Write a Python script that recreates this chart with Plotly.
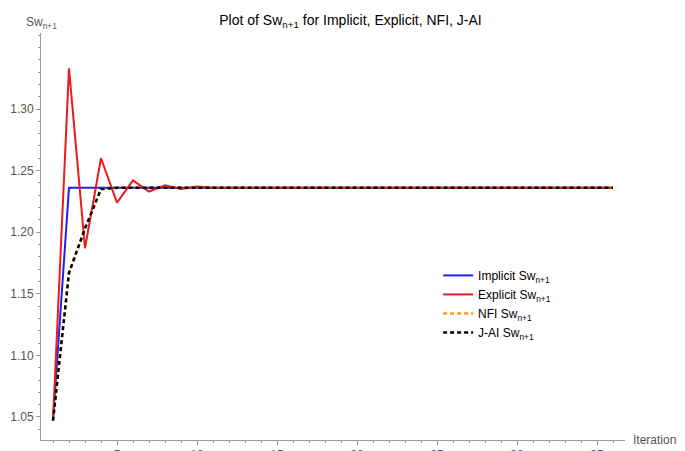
import plotly.graph_objects as go

iterations = list(range(1, 37))
implicit = [1.047] + [1.236] * 35
explicit = [1.047, 1.333, 1.187, 1.260, 1.224, 1.242, 1.233, 1.238, 1.235, 1.237] + [1.236] * 26
nfi = [1.047, 1.167, 1.203, 1.235] + [1.236] * 32
jai = [1.047, 1.167, 1.203, 1.235] + [1.236] * 32

fig = go.Figure()
fig.add_trace(go.Scatter(x=iterations, y=implicit, mode="lines", name="Implicit Sw<sub>n+1</sub>",
                         line=dict(color="#1f1ff0", width=2)))
fig.add_trace(go.Scatter(x=iterations, y=explicit, mode="lines", name="Explicit Sw<sub>n+1</sub>",
                         line=dict(color="#e81c1c", width=2)))
fig.add_trace(go.Scatter(x=iterations, y=nfi, mode="lines", name="NFI Sw<sub>n+1</sub>",
                         line=dict(color="#ff9a1a", width=2.5, dash="4px,3px")))
fig.add_trace(go.Scatter(x=iterations, y=jai, mode="lines", name="J-AI Sw<sub>n+1</sub>",
                         line=dict(color="black", width=2.5, dash="4px,3px")))

axis_common = dict(showgrid=False, zeroline=False, showline=True, linecolor="#999999",
                   ticks="outside", tickcolor="#999999", ticklen=4, automargin=False,
                   tickfont=dict(family="Liberation Sans", size=12, color="#555555"))
fig.update_layout(
    width=685, height=451,
    plot_bgcolor="white", paper_bgcolor="white",
    margin=dict(l=33, r=68, t=25, b=19),
    title=dict(text="Plot of Sw<sub>n+1</sub> for Implicit, Explicit, NFI, J-AI", x=0.5, xanchor="center",
               y=0.985, yanchor="top", font=dict(family="Liberation Sans", size=14, color="black")),
    xaxis=dict(range=[0.25, 36.75], tickvals=[5, 10, 15, 20, 25, 30, 35], minor=dict(ticks="outside", dtick=1, ticklen=2, tickcolor="#999999"), **axis_common),
    yaxis=dict(range=[1.0313, 1.3617], tickvals=[1.05, 1.10, 1.15, 1.20, 1.25, 1.30], tickformat=".2f",
               minor=dict(ticks="outside", dtick=0.01, ticklen=2, tickcolor="#999999"), **axis_common),
    showlegend=True,
    legend=dict(x=0.68, y=0.44, xanchor="left", yanchor="top", bgcolor="rgba(0,0,0,0)",
                font=dict(family="Liberation Sans", size=12, color="black"), tracegroupgap=14),
    annotations=[
        dict(text="Sw<sub>n+1</sub>", xref="paper", yref="paper", x=0, y=1.0, xanchor="center", yanchor="bottom",
             showarrow=False, font=dict(family="Liberation Sans", size=12, color="#555555")),
        dict(text="Iterations", xref="paper", yref="paper", x=1.01, y=0, xanchor="left", yanchor="middle",
             showarrow=False, font=dict(family="Liberation Sans", size=12, color="#555555")),
    ],
)
fig.write_html("out.html")
